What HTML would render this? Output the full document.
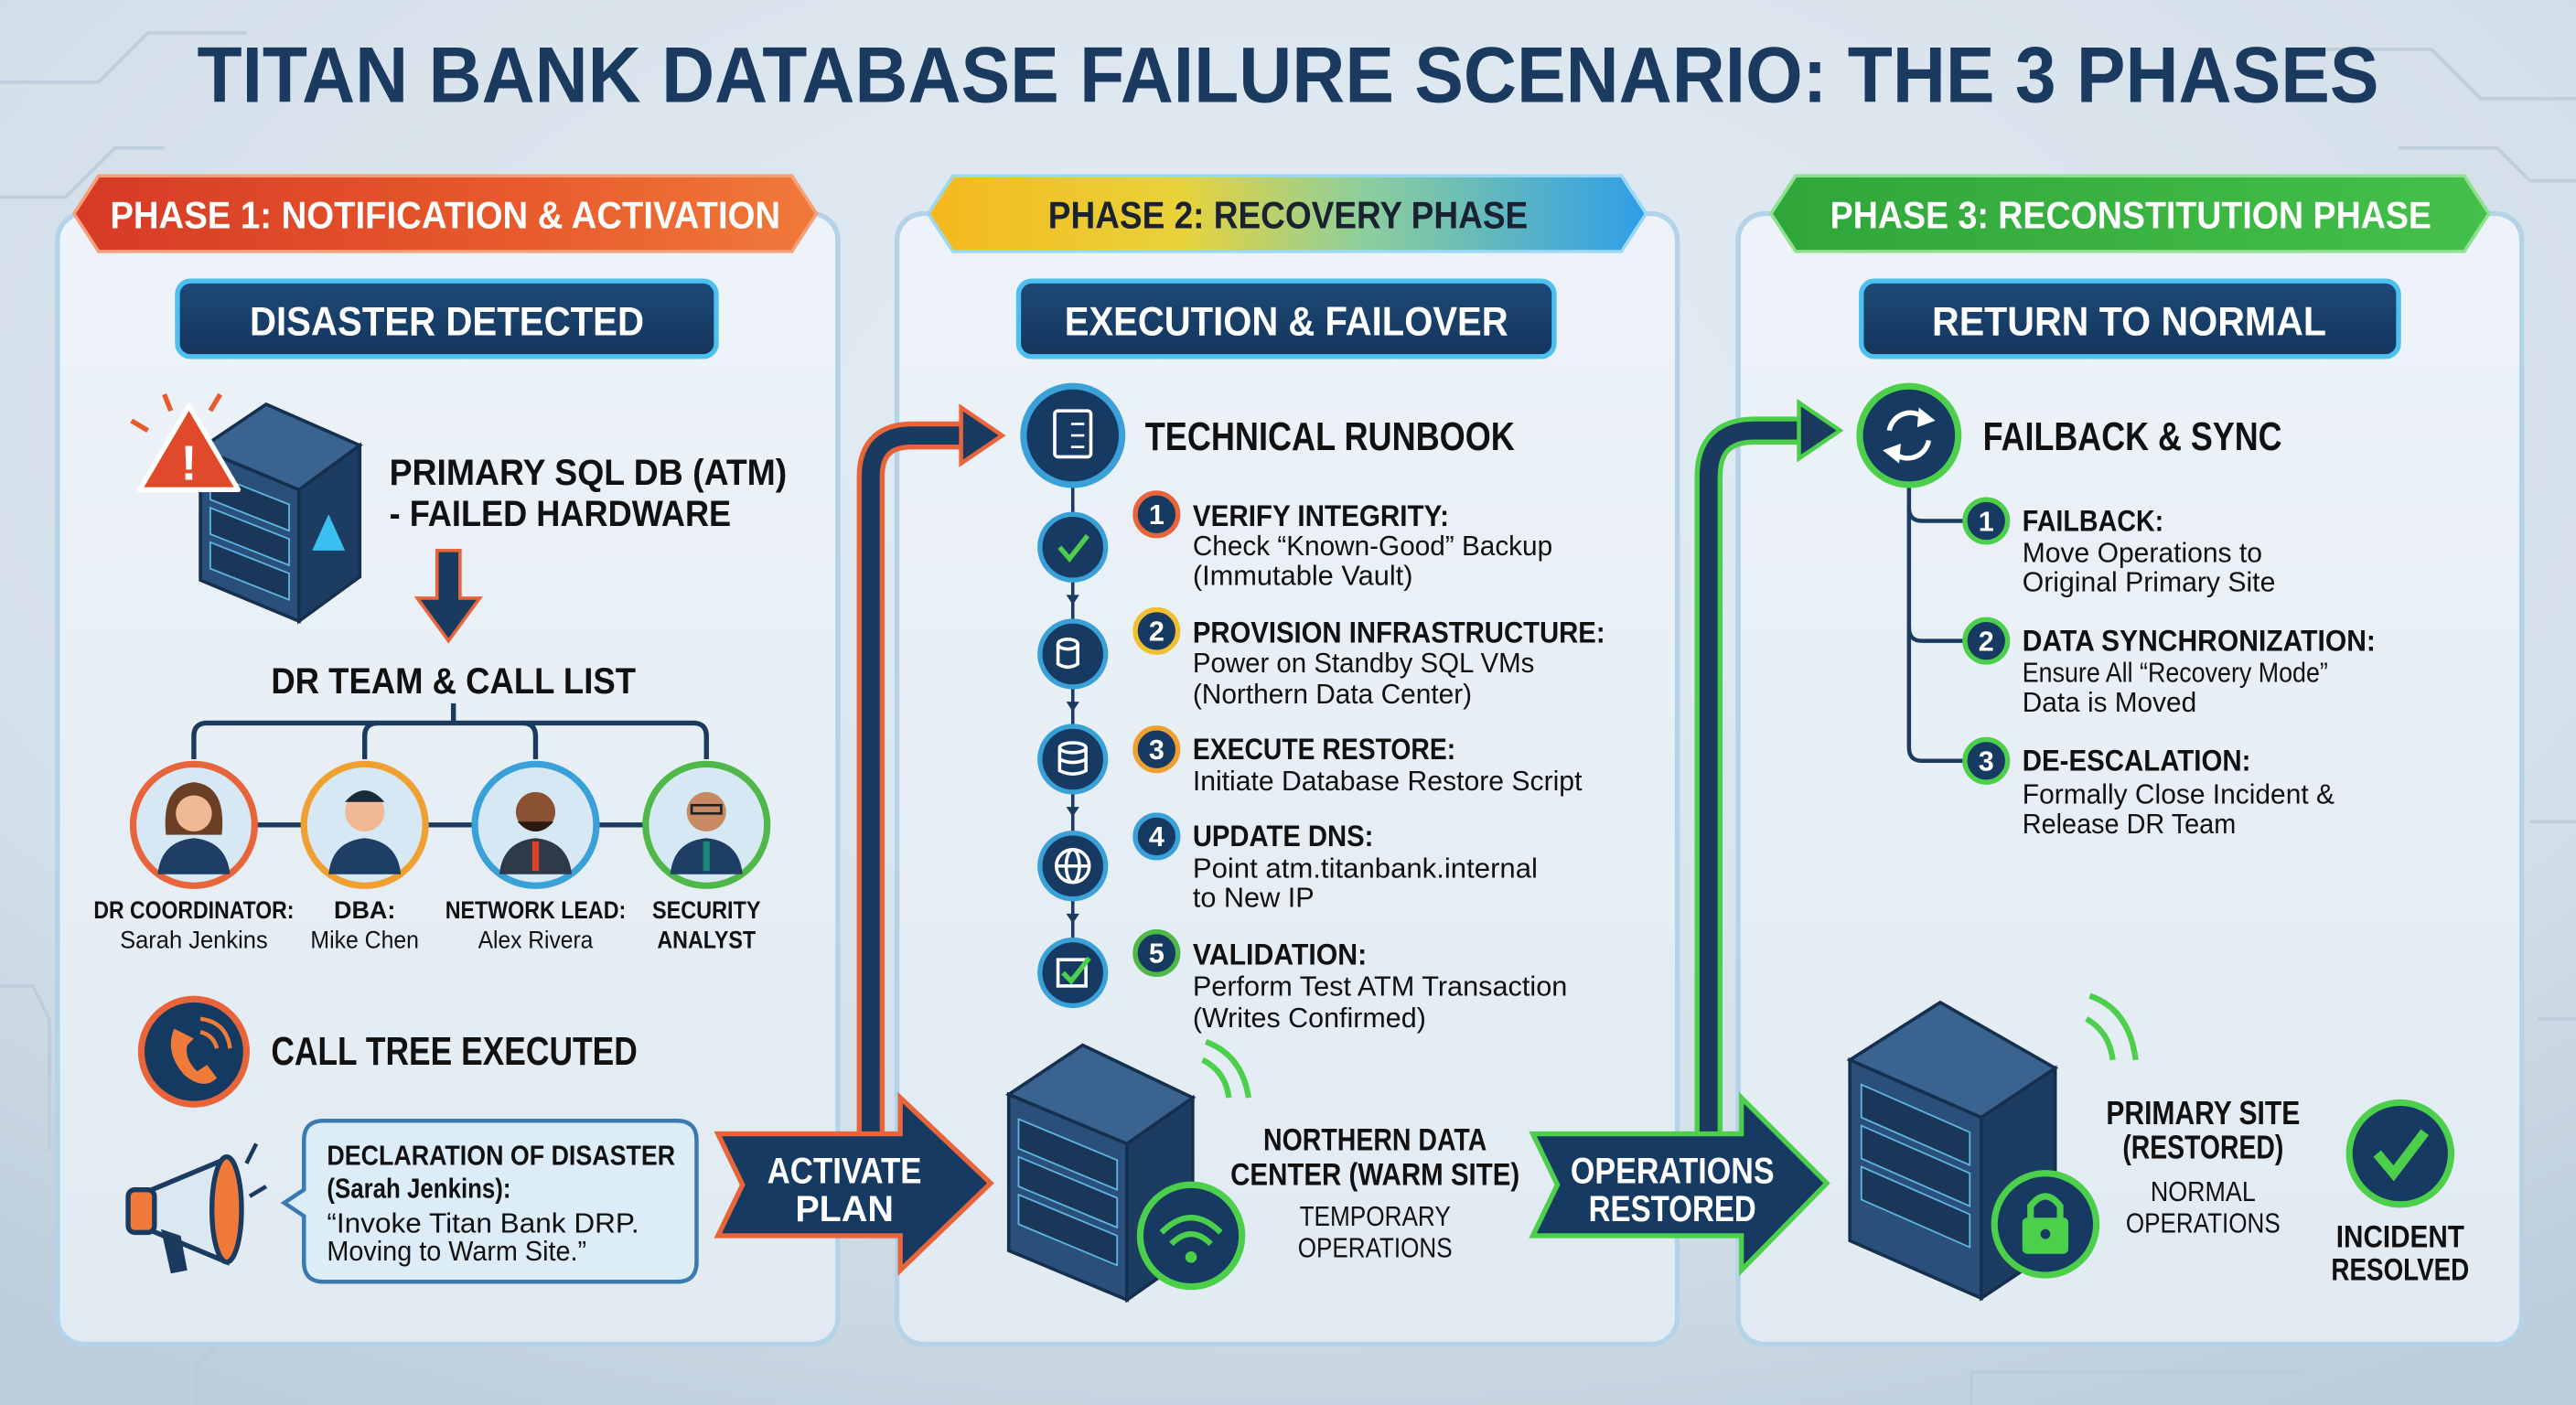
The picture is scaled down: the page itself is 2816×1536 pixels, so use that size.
<!DOCTYPE html>
<html><head><meta charset="utf-8"><style>
html,body{margin:0;padding:0;width:2816px;height:1536px;overflow:hidden;background:#d6e1eb}
svg{display:block}
text{font-family:"Liberation Sans Narrow","Liberation Sans",sans-serif}
.b{font-weight:bold}
</style></head><body>
<svg width="2816" height="1536" viewBox="0 0 1568 855" preserveAspectRatio="none" xmlns="http://www.w3.org/2000/svg">
<defs>
<radialGradient id="bg" cx="0.5" cy="0.3" r="0.8"><stop offset="0" stop-color="#e6eef5"/><stop offset="0.7" stop-color="#d3dfe9"/><stop offset="1" stop-color="#bdcddb"/></radialGradient>
<linearGradient id="p1" x1="0" x2="1"><stop offset="0" stop-color="#d63a26"/><stop offset="0.6" stop-color="#e85a2c"/><stop offset="1" stop-color="#f07a3a"/></linearGradient>
<linearGradient id="p2" x1="0" x2="1"><stop offset="0" stop-color="#f5b81e"/><stop offset="0.35" stop-color="#e9d23a"/><stop offset="0.6" stop-color="#8fcf9a"/><stop offset="1" stop-color="#2f9ee8"/></linearGradient>
<linearGradient id="p3" x1="0" x2="1"><stop offset="0" stop-color="#2fa63a"/><stop offset="1" stop-color="#45c04a"/></linearGradient>
<linearGradient id="panel" x1="0" y1="0" x2="0" y2="1"><stop offset="0" stop-color="#edf3f8"/><stop offset="1" stop-color="#e1eaf2"/></linearGradient>
<linearGradient id="sub" x1="0" y1="0" x2="0" y2="1"><stop offset="0" stop-color="#1e4a78"/><stop offset="1" stop-color="#13355c"/></linearGradient>
</defs>
<rect width="1568" height="855" fill="url(#bg)"/>
<g stroke="#b8c9d8" stroke-width="2" fill="none" opacity="0.8">
<path d="M0 50 H60 L90 20 H150"/><path d="M0 120 H40 L70 90 H100"/><path d="M1400 30 H1480 L1510 60 H1568"/><path d="M1460 90 H1520 L1540 110 H1568"/>
<path d="M0 600 H20 L30 620 V700"/><path d="M1540 500 H1568"/><path d="M1545 620 H1568"/>
<path d="M120 855 V830 L150 800 H300"/><path d="M1200 855 V835 H1400"/>
</g>
<text x="784" y="62" text-anchor="middle" class="b" font-size="48" fill="#1b3a60" textLength="1328" lengthAdjust="spacingAndGlyphs">TITAN BANK DATABASE FAILURE SCENARIO: THE 3 PHASES</text>

<g fill="url(#panel)" stroke="#b4d2e8" stroke-width="3">
<rect x="35" y="130" width="475" height="688" rx="16"/>
<rect x="546" y="130" width="475" height="688" rx="16"/>
<rect x="1058" y="130" width="477" height="688" rx="16"/>
</g>
<polygon points="60,107 482,107 497,130 482,153 60,153 45,130" fill="url(#p1)" stroke="#f4a07a" stroke-width="2"/>
<text x="271" y="139" text-anchor="middle" class="b" font-size="23" fill="#fff" textLength="408" lengthAdjust="spacingAndGlyphs">PHASE 1: NOTIFICATION &amp; ACTIVATION</text>
<polygon points="580,107 987,107 1002,130 987,153 580,153 565,130" fill="url(#p2)" stroke="#9ad8f5" stroke-width="2"/>
<text x="784" y="139" text-anchor="middle" class="b" font-size="23" fill="#1a2230" textLength="292" lengthAdjust="spacingAndGlyphs">PHASE 2: RECOVERY PHASE</text>
<polygon points="1093,107 1500,107 1515,130 1500,153 1093,153 1078,130" fill="url(#p3)" stroke="#8fe08f" stroke-width="2"/>
<text x="1297" y="139" text-anchor="middle" class="b" font-size="23" fill="#fff" textLength="366" lengthAdjust="spacingAndGlyphs">PHASE 3: RECONSTITUTION PHASE</text>

<g fill="url(#sub)" stroke="#4cc0ee" stroke-width="3">
<rect x="108" y="171" width="328" height="46" rx="8"/>
<rect x="620" y="171" width="326" height="46" rx="8"/>
<rect x="1133" y="171" width="327" height="46" rx="8"/>
</g>
<g class="b" font-size="25" fill="#fff" text-anchor="middle">
<text x="272" y="204" textLength="240" lengthAdjust="spacingAndGlyphs">DISASTER DETECTED</text>
<text x="783" y="204" textLength="270" lengthAdjust="spacingAndGlyphs">EXECUTION &amp; FAILOVER</text>
<text x="1296" y="204" textLength="240" lengthAdjust="spacingAndGlyphs">RETURN TO NORMAL</text>
</g>

<g transform="translate(122,243)">
<polygon points="0,30 60,55 60,135 0,110" fill="#2a4f7a" stroke="#15304f" stroke-width="2"/>
<polygon points="60,55 97,28 97,108 60,135" fill="#1d3c62" stroke="#15304f" stroke-width="2"/>
<polygon points="0,30 40,3 97,28 60,55" fill="#3a6390" stroke="#15304f" stroke-width="2"/>
<g fill="#1a3658" stroke="#5fb6e0" stroke-width="1"><polygon points="6,45 54,64 54,80 6,61"/><polygon points="6,66 54,85 54,101 6,82"/><polygon points="6,87 54,106 54,122 6,103"/></g>
<polygon points="78,70 88,92 68,92" fill="#3ac0f0"/>
</g>
<polygon points="115,247 145,298 85,298" fill="#e04a2a" stroke="#fff" stroke-width="3" stroke-linejoin="round"/>
<text x="115" y="292" text-anchor="middle" class="b" font-size="30" fill="#fff">!</text>
<g stroke="#e85a2c" stroke-width="3"><line x1="80" y1="256" x2="90" y2="262"/><line x1="100" y1="240" x2="104" y2="250"/><line x1="134" y1="240" x2="128" y2="250"/></g>
<text x="237" y="295" class="b" font-size="22" fill="#111" textLength="242" lengthAdjust="spacingAndGlyphs">PRIMARY SQL DB (ATM)</text>
<text x="237" y="320" class="b" font-size="22" fill="#111" textLength="208" lengthAdjust="spacingAndGlyphs">- FAILED HARDWARE</text>
<polygon points="266,335 280,335 280,364 292,364 273,390 254,364 266,364" fill="#1b3a60" stroke="#e8643a" stroke-width="2"/>
<text x="276" y="422" text-anchor="middle" class="b" font-size="22" fill="#111" textLength="222" lengthAdjust="spacingAndGlyphs">DR TEAM &amp; CALL LIST</text>
<g stroke="#1b3a60" stroke-width="3" fill="none"><path d="M276 428 V440"/><path d="M118 462 V448 Q118 440 126 440 H422 Q430 440 430 448 V462"/><path d="M222 462 V448 Q222 440 230 440"/><path d="M326 462 V448 Q326 440 318 440"/><line x1="156" y1="502" x2="394" y2="502"/></g>
<g stroke-width="4">
<circle cx="118" cy="502" r="37" fill="#d6e8f3" stroke="#e8643a"/>
<circle cx="222" cy="502" r="37" fill="#d6e8f3" stroke="#f0a030"/>
<circle cx="326" cy="502" r="37" fill="#d6e8f3" stroke="#3aa0d8"/>
<circle cx="430" cy="502" r="37" fill="#d6e8f3" stroke="#50b848"/>
</g>
<g>
<path d="M96 532 Q98 512 118 510 Q138 512 140 532 Z" fill="#1f3e66"/><path d="M101 508 Q98 478 118 476 Q138 478 135 508 Z" fill="#6b3e26"/><circle cx="118" cy="495" r="11" fill="#f1b894"/>
<path d="M200 532 Q202 512 222 510 Q242 512 244 532 Z" fill="#1f3e66"/><circle cx="222" cy="494" r="12" fill="#f1b894"/><path d="M210 488 Q222 474 234 488 Z" fill="#1a2a3a"/>
<path d="M304 532 Q306 512 326 510 Q346 512 348 532 Z" fill="#2e3a48"/><rect x="324" y="512" width="4" height="18" fill="#e0402a"/><circle cx="326" cy="494" r="12" fill="#8a5232"/><path d="M315 500 Q326 512 337 500 Z" fill="#2a1a12"/>
<path d="M408 532 Q410 512 430 510 Q450 512 452 532 Z" fill="#1f3e66"/><rect x="428" y="512" width="4" height="18" fill="#1a8a7a"/><circle cx="430" cy="494" r="12" fill="#c88a62"/><rect x="421" y="490" width="18" height="5" fill="none" stroke="#222" stroke-width="1.5"/>
</g>
<g font-size="15" fill="#111" text-anchor="middle">
<text x="118" y="559" class="b" textLength="122" lengthAdjust="spacingAndGlyphs">DR COORDINATOR:</text>
<text x="118" y="577" textLength="90" lengthAdjust="spacingAndGlyphs">Sarah Jenkins</text>
<text x="222" y="559" class="b">DBA:</text>
<text x="222" y="577" textLength="66" lengthAdjust="spacingAndGlyphs">Mike Chen</text>
<text x="326" y="559" class="b" textLength="110" lengthAdjust="spacingAndGlyphs">NETWORK LEAD:</text>
<text x="326" y="577" textLength="70" lengthAdjust="spacingAndGlyphs">Alex Rivera</text>
<text x="430" y="559" class="b" textLength="66" lengthAdjust="spacingAndGlyphs">SECURITY</text>
<text x="430" y="577" class="b" textLength="60" lengthAdjust="spacingAndGlyphs">ANALYST</text>
</g>
<circle cx="118" cy="640" r="32" fill="#153a62" stroke="#e8643a" stroke-width="4"/>
<path d="M106 626 Q100 640 112 654 Q124 664 132 656 L126 648 L120 652 Q112 644 114 636 L118 632 Z" fill="#f07a3a"/>
<g stroke="#f07a3a" stroke-width="2.5" fill="none"><path d="M122 628 Q130 630 132 638"/><path d="M122 620 Q138 622 140 638"/></g>
<text x="165" y="648" class="b" font-size="24" fill="#111" textLength="223" lengthAdjust="spacingAndGlyphs">CALL TREE EXECUTED</text>
<polygon points="90,725 138,705 138,768 90,748" fill="#dbe8f2" stroke="#1b3a60" stroke-width="3"/>
<rect x="78" y="724" width="16" height="26" rx="4" fill="#f07a3a" stroke="#1b3a60" stroke-width="3"/>
<ellipse cx="138" cy="736" rx="9" ry="32" fill="#f07a3a" stroke="#1b3a60" stroke-width="3"/>
<path d="M98 748 L104 775 L114 773 L110 752" fill="#1b3a60"/>
<g stroke="#1b3a60" stroke-width="2.5"><line x1="150" y1="708" x2="156" y2="696"/><line x1="152" y1="728" x2="162" y2="722"/></g>
<path d="M197 682 H412 Q424 682 424 694 V768 Q424 780 412 780 H197 Q185 780 185 768 V740 L173 732 L185 724 V694 Q185 682 197 682 Z" fill="#dcedf8" stroke="#3a7ab0" stroke-width="2.5"/>
<g font-size="17" fill="#111">
<text x="199" y="709" class="b" textLength="212" lengthAdjust="spacingAndGlyphs">DECLARATION OF DISASTER</text>
<text x="199" y="729" class="b" textLength="112" lengthAdjust="spacingAndGlyphs">(Sarah Jenkins):</text>
<text x="199" y="750" textLength="190" lengthAdjust="spacingAndGlyphs">“Invoke Titan Bank DRP.</text>
<text x="199" y="767" textLength="158" lengthAdjust="spacingAndGlyphs">Moving to Warm Site.”</text>
</g>

<path d="M530 690 V290 Q530 265 555 265 H590" fill="none" stroke="#e8643a" stroke-width="17"/>
<path d="M530 690 V290 Q530 265 555 265 H590" fill="none" stroke="#1b3a60" stroke-width="11"/>
<polygon points="585,248 610,265 585,282" fill="#1b3a60" stroke="#e8643a" stroke-width="2.5"/>
<polygon points="437,690 548,690 548,668 603,720 548,773 548,752 437,752 452,721" fill="#163a62" stroke="#e8643a" stroke-width="3"/>
<text x="514" y="720" text-anchor="middle" class="b" font-size="22" fill="#fff" textLength="94" lengthAdjust="spacingAndGlyphs">ACTIVATE</text>
<text x="514" y="743" text-anchor="middle" class="b" font-size="22" fill="#fff">PLAN</text>

<line x1="653" y1="295" x2="653" y2="580" stroke="#1b3a60" stroke-width="2"/>
<circle cx="653" cy="265" r="30" fill="#163a62" stroke="#3aa0d8" stroke-width="4"/>
<rect x="642" y="250" width="22" height="28" rx="2" fill="none" stroke="#fff" stroke-width="2"/>
<g stroke="#fff" stroke-width="1.5"><line x1="652" y1="258" x2="660" y2="258"/><line x1="652" y1="265" x2="660" y2="265"/><line x1="652" y1="272" x2="660" y2="272"/></g>
<text x="697" y="274" class="b" font-size="24" fill="#111" textLength="225" lengthAdjust="spacingAndGlyphs">TECHNICAL RUNBOOK</text>
<g fill="#163a62" stroke="#3aa0d8" stroke-width="3">
<circle cx="653" cy="333" r="20"/><circle cx="653" cy="398" r="20"/><circle cx="653" cy="462" r="20"/><circle cx="653" cy="527" r="20"/><circle cx="653" cy="592" r="20"/>
</g>
<g fill="none" stroke="#fff" stroke-width="2">
<path d="M645 333 L651 340 L662 326" stroke="#4ccf4a" stroke-width="3"/>
<ellipse cx="650" cy="392" rx="6" ry="3"/><path d="M644 392 V404 Q650 408 656 404 V392"/>
<ellipse cx="653" cy="455" rx="8" ry="3"/><path d="M645 455 V469 Q653 473 661 469 V455 M645 462 Q653 466 661 462"/>
<circle cx="653" cy="527" r="10"/><ellipse cx="653" cy="527" rx="4" ry="10"/><line x1="643" y1="527" x2="663" y2="527"/>
<rect x="644" y="584" width="17" height="16"/><path d="M647 592 L652 597 L663 583" stroke="#4ccf4a" stroke-width="3"/>
</g>
<g fill="#1b3a60"><polygon points="649,362 657,362 653,368"/><polygon points="649,427 657,427 653,433"/><polygon points="649,491 657,491 653,497"/><polygon points="649,556 657,556 653,562"/></g>
<g stroke-width="3" fill="#163a62">
<circle cx="704" cy="313" r="13" stroke="#e8643a"/><circle cx="704" cy="384" r="13" stroke="#f0c030"/><circle cx="704" cy="456" r="13" stroke="#f0a030"/><circle cx="704" cy="509" r="13" stroke="#3aa0d8"/><circle cx="704" cy="580" r="13" stroke="#50b848"/>
</g>
<g fill="#fff" class="b" font-size="17" text-anchor="middle">
<text x="704" y="319">1</text><text x="704" y="390">2</text><text x="704" y="462">3</text><text x="704" y="515">4</text><text x="704" y="586">5</text>
</g>
<g font-size="18" fill="#111">
<text x="726" y="320" class="b" textLength="156" lengthAdjust="spacingAndGlyphs">VERIFY INTEGRITY:</text>
<text x="726" y="338" font-size="17" textLength="219" lengthAdjust="spacingAndGlyphs">Check “Known-Good” Backup</text>
<text x="726" y="356" font-size="17" textLength="134" lengthAdjust="spacingAndGlyphs">(Immutable Vault)</text>
<text x="726" y="391" class="b" textLength="251" lengthAdjust="spacingAndGlyphs">PROVISION INFRASTRUCTURE:</text>
<text x="726" y="409" font-size="17" textLength="208" lengthAdjust="spacingAndGlyphs">Power on Standby SQL VMs</text>
<text x="726" y="428" font-size="17" textLength="170" lengthAdjust="spacingAndGlyphs">(Northern Data Center)</text>
<text x="726" y="462" class="b" textLength="160" lengthAdjust="spacingAndGlyphs">EXECUTE RESTORE:</text>
<text x="726" y="481" font-size="17" textLength="237" lengthAdjust="spacingAndGlyphs">Initiate Database Restore Script</text>
<text x="726" y="515" class="b" textLength="110" lengthAdjust="spacingAndGlyphs">UPDATE DNS:</text>
<text x="726" y="534" font-size="17" textLength="210" lengthAdjust="spacingAndGlyphs">Point atm.titanbank.internal</text>
<text x="726" y="552" font-size="17" textLength="74" lengthAdjust="spacingAndGlyphs">to New IP</text>
<text x="726" y="587" class="b" textLength="106" lengthAdjust="spacingAndGlyphs">VALIDATION:</text>
<text x="726" y="606" font-size="17" textLength="228" lengthAdjust="spacingAndGlyphs">Perform Test ATM Transaction</text>
<text x="726" y="625" font-size="17" textLength="142" lengthAdjust="spacingAndGlyphs">(Writes Confirmed)</text>
</g>
<g transform="translate(614,636)">
<polygon points="0,30 72,60 72,155 0,125" fill="#2a4f7a" stroke="#15304f" stroke-width="2"/>
<polygon points="72,60 112,32 112,127 72,155" fill="#1d3c62" stroke="#15304f" stroke-width="2"/>
<polygon points="0,30 45,0 112,32 72,60" fill="#3a6390" stroke="#15304f" stroke-width="2"/>
<g fill="#1a3658" stroke="#5fb6e0" stroke-width="1"><polygon points="6,45 66,70 66,88 6,63"/><polygon points="6,68 66,93 66,111 6,86"/><polygon points="6,91 66,116 66,134 6,109"/></g>
</g>
<g fill="none" stroke="#4ccf4a" stroke-width="3.5"><path d="M732 645 Q746 652 748 668"/><path d="M734 634 Q756 642 760 668"/></g>
<circle cx="725" cy="752" r="31" fill="#163a62" stroke="#4ccf4a" stroke-width="4"/>
<g fill="none" stroke="#4ccf4a" stroke-width="3.5"><path d="M707 750 Q725 732 743 750"/><path d="M713 757 Q725 745 737 757"/></g><circle cx="725" cy="765" r="3.5" fill="#4ccf4a"/>
<g text-anchor="middle" fill="#111">
<text x="837" y="700" class="b" font-size="19" textLength="136" lengthAdjust="spacingAndGlyphs">NORTHERN DATA</text>
<text x="837" y="721" class="b" font-size="19" textLength="176" lengthAdjust="spacingAndGlyphs">CENTER (WARM SITE)</text>
<text x="837" y="746" font-size="17" textLength="92" lengthAdjust="spacingAndGlyphs">TEMPORARY</text>
<text x="837" y="765" font-size="17" textLength="94" lengthAdjust="spacingAndGlyphs">OPERATIONS</text>
</g>

<path d="M1040 690 V290 Q1040 262 1068 262 H1100" fill="none" stroke="#4ccf4a" stroke-width="17"/>
<path d="M1040 690 V290 Q1040 262 1068 262 H1100" fill="none" stroke="#1b3a60" stroke-width="11"/>
<polygon points="1095,245 1120,262 1095,279" fill="#1b3a60" stroke="#4ccf4a" stroke-width="2.5"/>
<polygon points="933,690 1060,690 1060,668 1112,720 1060,773 1060,752 933,752 948,721" fill="#163a62" stroke="#4ccf4a" stroke-width="3"/>
<text x="1018" y="720" text-anchor="middle" class="b" font-size="22" fill="#fff" textLength="124" lengthAdjust="spacingAndGlyphs">OPERATIONS</text>
<text x="1018" y="743" text-anchor="middle" class="b" font-size="22" fill="#fff" textLength="102" lengthAdjust="spacingAndGlyphs">RESTORED</text>

<g stroke="#1b3a60" stroke-width="2.5" fill="none"><path d="M1162 295 V455 Q1162 463 1170 463 H1195"/><path d="M1162 309 Q1162 317 1170 317 H1195"/><path d="M1162 382 Q1162 390 1170 390 H1195"/></g>
<circle cx="1162" cy="265" r="30" fill="#163a62" stroke="#4ccf4a" stroke-width="4"/>
<g fill="none" stroke="#fff" stroke-width="3"><path d="M1150 262 A13 13 0 0 1 1172 255"/><path d="M1174 268 A13 13 0 0 1 1152 275"/></g>
<polygon points="1168,248 1178,256 1167,260" fill="#fff"/><polygon points="1156,282 1146,274 1157,270" fill="#fff"/>
<text x="1207" y="274" class="b" font-size="24" fill="#111" textLength="182" lengthAdjust="spacingAndGlyphs">FAILBACK &amp; SYNC</text>
<g fill="#163a62" stroke="#4ccf4a" stroke-width="3"><circle cx="1209" cy="317" r="13"/><circle cx="1209" cy="390" r="13"/><circle cx="1209" cy="463" r="13"/></g>
<g fill="#fff" class="b" font-size="17" text-anchor="middle"><text x="1209" y="323">1</text><text x="1209" y="396">2</text><text x="1209" y="469">3</text></g>
<g font-size="18" fill="#111">
<text x="1231" y="323" class="b" textLength="86" lengthAdjust="spacingAndGlyphs">FAILBACK:</text>
<text x="1231" y="342" font-size="17" textLength="146" lengthAdjust="spacingAndGlyphs">Move Operations to</text>
<text x="1231" y="360" font-size="17" textLength="154" lengthAdjust="spacingAndGlyphs">Original Primary Site</text>
<text x="1231" y="396" class="b" textLength="215" lengthAdjust="spacingAndGlyphs">DATA SYNCHRONIZATION:</text>
<text x="1231" y="415" font-size="17" textLength="186" lengthAdjust="spacingAndGlyphs">Ensure All “Recovery Mode”</text>
<text x="1231" y="433" font-size="17" textLength="106" lengthAdjust="spacingAndGlyphs">Data is Moved</text>
<text x="1231" y="469" class="b" textLength="139" lengthAdjust="spacingAndGlyphs">DE-ESCALATION:</text>
<text x="1231" y="489" font-size="17" textLength="190" lengthAdjust="spacingAndGlyphs">Formally Close Incident &amp;</text>
<text x="1231" y="507" font-size="17" textLength="130" lengthAdjust="spacingAndGlyphs">Release DR Team</text>
</g>
<g transform="translate(1126,605)">
<polygon points="0,40 80,75 80,185 0,150" fill="#2a4f7a" stroke="#15304f" stroke-width="2"/>
<polygon points="80,75 125,45 125,155 80,185" fill="#1d3c62" stroke="#15304f" stroke-width="2"/>
<polygon points="0,40 55,5 125,45 80,75" fill="#3a6390" stroke="#15304f" stroke-width="2"/>
<g fill="#1a3658" stroke="#5fb6e0" stroke-width="1"><polygon points="7,55 73,84 73,104 7,75"/><polygon points="7,80 73,109 73,129 7,100"/><polygon points="7,105 73,134 73,154 7,125"/></g>
</g>
<g fill="none" stroke="#4ccf4a" stroke-width="3.5"><path d="M1270 620 Q1284 628 1286 645"/><path d="M1272 606 Q1296 614 1300 645"/></g>
<circle cx="1245" cy="745" r="31" fill="#163a62" stroke="#4ccf4a" stroke-width="4"/>
<path d="M1236 742 V734 Q1245 722 1254 734 V742" fill="none" stroke="#4ccf4a" stroke-width="4"/>
<rect x="1231" y="741" width="28" height="22" rx="3" fill="#4ccf4a"/><circle cx="1245" cy="751" r="3" fill="#163a62"/>
<g text-anchor="middle" fill="#111">
<text x="1341" y="684" class="b" font-size="20" textLength="118" lengthAdjust="spacingAndGlyphs">PRIMARY SITE</text>
<text x="1341" y="705" class="b" font-size="20" textLength="98" lengthAdjust="spacingAndGlyphs">(RESTORED)</text>
<text x="1341" y="731" font-size="17" textLength="64" lengthAdjust="spacingAndGlyphs">NORMAL</text>
<text x="1341" y="750" font-size="17" textLength="94" lengthAdjust="spacingAndGlyphs">OPERATIONS</text>
</g>
<circle cx="1461" cy="702" r="31" fill="#163a62" stroke="#4ccf4a" stroke-width="4"/>
<path d="M1447 702 L1457 714 L1476 689" fill="none" stroke="#4ccf4a" stroke-width="6"/>
<text x="1461" y="759" text-anchor="middle" class="b" font-size="19" fill="#111" textLength="78" lengthAdjust="spacingAndGlyphs">INCIDENT</text>
<text x="1461" y="779" text-anchor="middle" class="b" font-size="19" fill="#111" textLength="84" lengthAdjust="spacingAndGlyphs">RESOLVED</text>
</svg>
</body></html>
